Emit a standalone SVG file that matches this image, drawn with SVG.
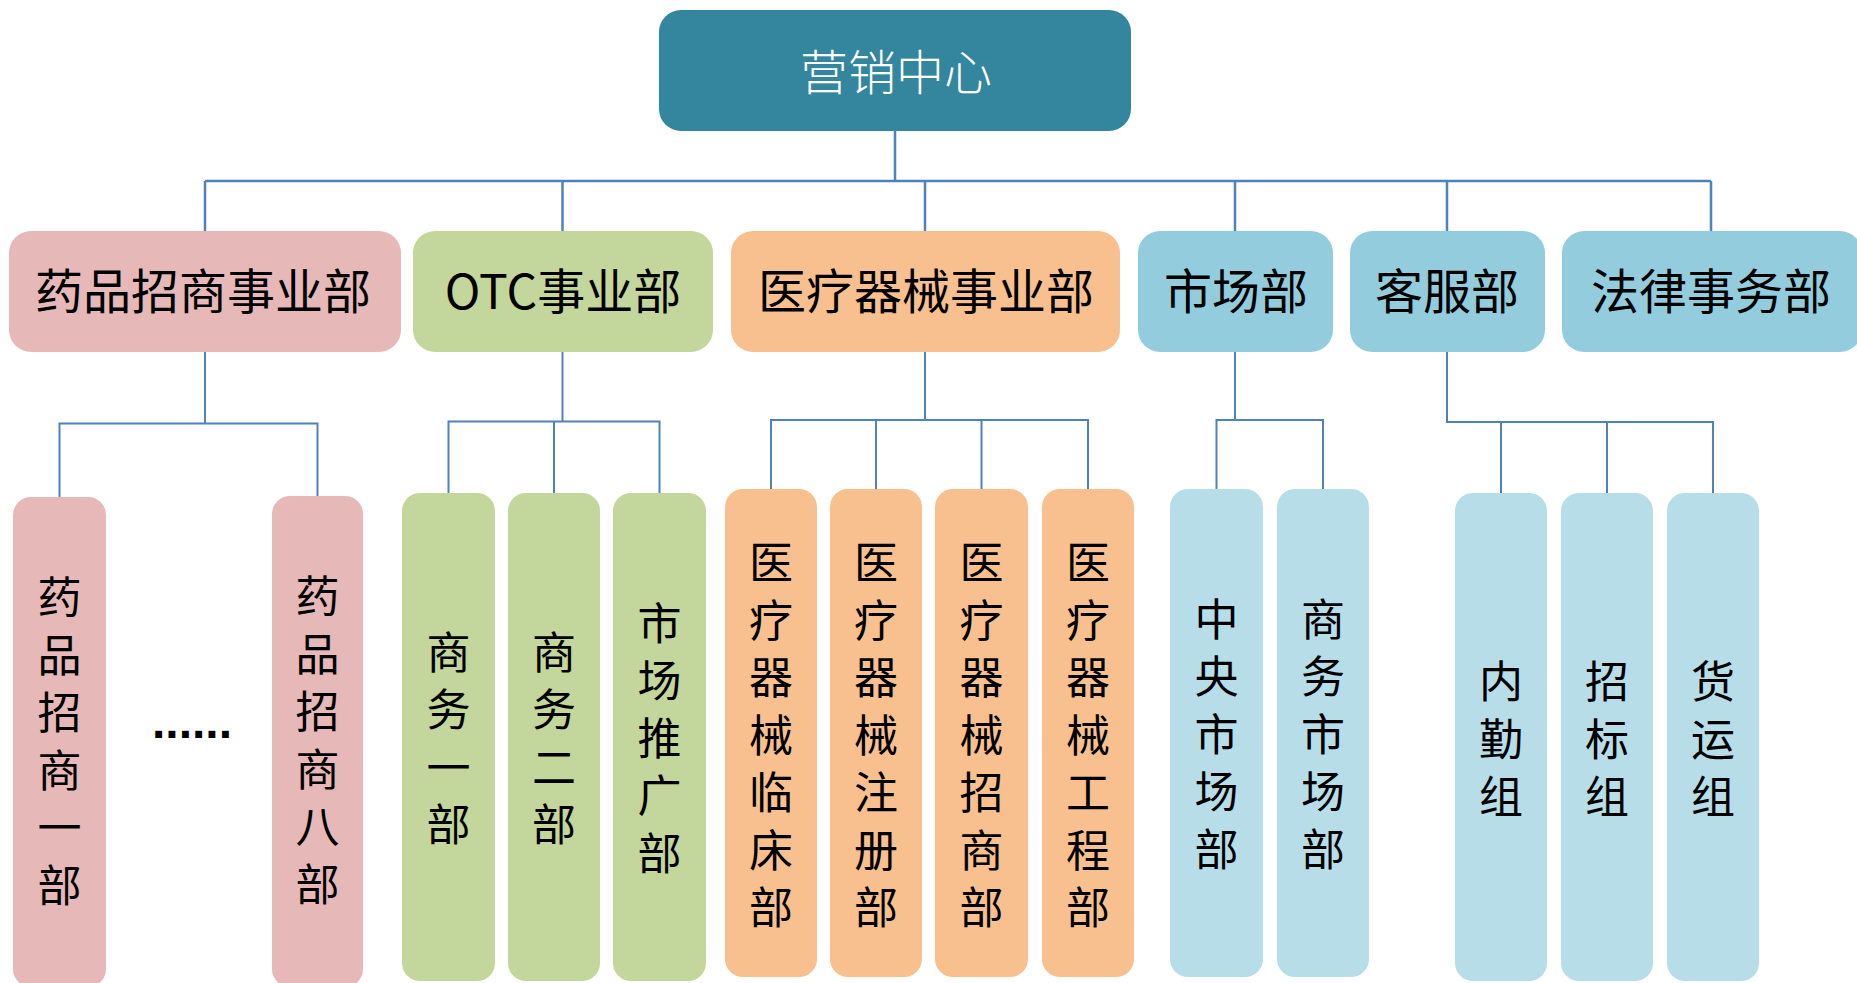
<svg xmlns="http://www.w3.org/2000/svg" width="1857" height="983" viewBox="0 0 1857 983">
<style>
.t{font-family:"Noto Sans CJK SC","Liberation Sans",sans-serif;fill:#000;text-anchor:middle}
.l1{font-size:48px}
.l2{font-size:44px;writing-mode:vertical-rl;text-orientation:upright;letter-spacing:13.5px}
.root{font-size:48px;fill:#fff;font-weight:300}
.c{fill:none;stroke:#4F81BD;stroke-width:2}
.pk{fill:#E6B9B8}.gr{fill:#C3D69B}.or{fill:#F9C08F}.bl{fill:#93CDDD}.lb{fill:#B7DEE8}
</style>
<rect width="1857" height="983" fill="#fff"/>
<g id="connectors">
<path class="c" d="M895 131V181M205 181H1711M205 181V231M562.5 181V231M925 181V231M1235 181V231M1447 181V231M1711 181V231" style="stroke-width:2.5"/>
<path class="c" d="M205 352V423.5M59.5 497V423.5H317.5V496"/>
<path class="c" d="M562.5 352V421.5M448.5 493V421.5H659.5V493M554 421.5V493"/>
<path class="c" d="M925 352V420M771 489V420H1088V489M876 420V489M981.5 420V489"/>
<path class="c" d="M1235 352V420M1216.5 489V420H1323V489"/>
<path class="c" d="M1447 352V422H1713V493M1501 422V493M1607 422V493"/>
</g>
<g id="root"><rect x="659" y="10" width="472" height="121" rx="22" fill="#33869D"/><text class="t root" x="896" y="90">营销中心</text></g>
<g id="d1"><rect class="pk" x="9" y="231" width="392" height="121" rx="22"/><text class="t l1" x="203" y="309">药品招商事业部</text></g>
<g id="d2"><rect class="gr" x="413" y="231" width="300" height="121" rx="22"/><text class="t l1" x="563" y="309">OTC事业部</text></g>
<g id="d3"><rect class="or" x="731" y="231" width="389" height="121" rx="22"/><text class="t l1" x="926" y="309">医疗器械事业部</text></g>
<g id="d4"><rect class="bl" x="1138" y="231" width="195" height="121" rx="22"/><text class="t l1" x="1236" y="309">市场部</text></g>
<g id="d5"><rect class="bl" x="1350" y="231" width="195" height="121" rx="22"/><text class="t l1" x="1447" y="309">客服部</text></g>
<g id="d6"><rect class="bl" x="1562" y="231" width="300" height="121" rx="22"/><text class="t l1" x="1711" y="309">法律事务部</text></g>

<g id="g1a"><rect class="pk" x="13" y="497" width="93" height="490" rx="18"/><text class="t l2" x="59.5" y="748">药品招商一部</text></g>
<g id="ellipsis"><text x="152" y="738" style="font-family:'Liberation Sans',sans-serif;font-weight:bold;font-size:48px;fill:#000">......</text></g>
<g id="g1b"><rect class="pk" x="272" y="496" width="91" height="491" rx="18"/><text class="t l2" x="317.5" y="747">药品招商八部</text></g>

<g id="g2a"><rect class="gr" x="402" y="493" width="93" height="488" rx="18"/><text class="t l2" x="448.5" y="745">商务一部</text></g>
<g id="g2b"><rect class="gr" x="508" y="493" width="92" height="488" rx="18"/><text class="t l2" x="554" y="745">商务二部</text></g>
<g id="g2c"><rect class="gr" x="613" y="493" width="93" height="488" rx="18"/><text class="t l2" x="659.5" y="745">市场推广部</text></g>

<g id="g3a"><rect class="or" x="725" y="489" width="92" height="488" rx="18"/><text class="t l2" x="771" y="742">医疗器械临床部</text></g>
<g id="g3b"><rect class="or" x="830" y="489" width="92" height="488" rx="18"/><text class="t l2" x="876" y="742">医疗器械注册部</text></g>
<g id="g3c"><rect class="or" x="935" y="489" width="93" height="488" rx="18"/><text class="t l2" x="981.5" y="742">医疗器械招商部</text></g>
<g id="g3d"><rect class="or" x="1042" y="489" width="92" height="488" rx="18"/><text class="t l2" x="1088" y="742">医疗器械工程部</text></g>

<g id="g4a"><rect class="lb" x="1170" y="489" width="93" height="488" rx="18"/><text class="t l2" x="1216.5" y="741">中央市场部</text></g>
<g id="g4b"><rect class="lb" x="1277" y="489" width="92" height="488" rx="18"/><text class="t l2" x="1323" y="741">商务市场部</text></g>

<g id="g5a"><rect class="lb" x="1455" y="493" width="92" height="488" rx="18"/><text class="t l2" x="1501" y="746">内勤组</text></g>
<g id="g5b"><rect class="lb" x="1561" y="493" width="92" height="488" rx="18"/><text class="t l2" x="1607" y="746">招标组</text></g>
<g id="g5c"><rect class="lb" x="1667" y="493" width="92" height="488" rx="18"/><text class="t l2" x="1713" y="746">货运组</text></g>
</svg>
